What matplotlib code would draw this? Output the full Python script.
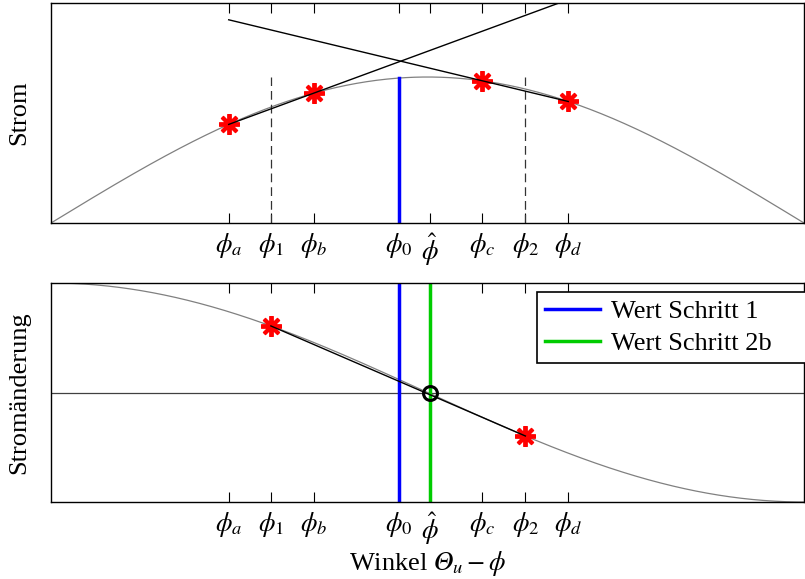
import numpy as np
import matplotlib
matplotlib.use("Agg")
import matplotlib.pyplot as plt

plt.rcParams['font.family'] = ['Liberation Serif', 'DejaVu Serif']
plt.rcParams['mathtext.fontset'] = 'stix'

# Data (angle normalized by pi on [0, 1])
xmax = np.pi
tick_pos = np.array([0.236, 0.292, 0.349, 0.4615, 0.503, 0.573, 0.630, 0.687]) * np.pi
tick_labels = [r'$\phi_a$', r'$\phi_1$', r'$\phi_b$', r'$\phi_0$', r'$\hat{\phi}$',
               r'$\phi_c$', r'$\phi_2$', r'$\phi_d$']
phi_a, phi_1, phi_b, phi_0, phi_hat, phi_c, phi_2, phi_d = tick_pos
meas_top = [phi_a, phi_b, phi_c, phi_d]
meas_bot = [phi_1, phi_2]
legend_labels = ['Wert Schritt 1', 'Wert Schritt 2b']

x = np.linspace(0, xmax, 600)

fig = plt.figure(figsize=(8.05, 5.79), dpi=100)
ax1 = fig.add_axes([51/805, 1-223/579, 753/805, 220/579])
ax2 = fig.add_axes([51/805, 1-502/579, 753/805, 219/579])

fs = 19
grey = '#808080'
star = (8, 2, 0)

# --- Top plot ---
ax1.plot(x, np.sin(x), color=grey, lw=0.9, zorder=1)
s1 = (np.sin(phi_b) - np.sin(phi_a)) / (phi_b - phi_a)
s2 = (np.sin(phi_d) - np.sin(phi_c)) / (phi_d - phi_c)
xs = np.array([phi_a, phi_d])
ax1.plot(xs, np.sin(phi_a) + s1 * (xs - phi_a), color='black', lw=1.0, zorder=3)
ax1.plot(xs, np.sin(phi_c) + s2 * (xs - phi_c), color='black', lw=1.0, zorder=3)
for p in [phi_1, phi_2]:
    ax1.plot([p, p], [0, 1], color='#333333', lw=0.9, ls=(0, (7, 4)), zorder=2)
ax1.plot([phi_0, phi_0], [0, np.sin(phi_0)], color='#0000ff', lw=2.5, zorder=2)
ax1.plot(meas_top, np.sin(meas_top), ls='none', marker=star, ms=15,
         mew=2.8, mec='#ff0000', mfc='#ff0000', zorder=2.5)
ax1.set_xlim(0, xmax)
ax1.set_ylim(0, 1.507)
ax1.set_ylabel('Strom', fontsize=fs, labelpad=15)

# --- Bottom plot ---
ax2.plot(x, np.cos(x), color=grey, lw=0.9, zorder=1)
ax2.axhline(0, color='#404040', lw=0.9, zorder=1)
sb = (np.cos(phi_2) - np.cos(phi_1)) / (phi_2 - phi_1)
xb = np.array([phi_1, phi_2])
ax2.plot(xb, np.cos(phi_1) + sb * (xb - phi_1), color='black', lw=1.0, zorder=3)
l1, = ax2.plot([phi_0, phi_0], [-1, 1], color='#0000ff', lw=2.5, zorder=2)
l2, = ax2.plot([phi_hat, phi_hat], [-1, 1], color='#00cc00', lw=2.5, zorder=2)
ax2.plot(meas_bot, np.cos(meas_bot), ls='none', marker=star, ms=15,
         mew=2.8, mec='#ff0000', mfc='#ff0000', zorder=2.5)
ax2.plot([phi_hat], [0], ls='none', marker='o', ms=10, mew=2.2, mec='black',
         mfc='none', zorder=4)
ax2.set_xlim(0, xmax)
ax2.set_ylim(-1, 1)
ax2.set_ylabel('Stromänderung', fontsize=fs, labelpad=15)
ax2.set_xlabel('Winkel $\U0001D6E9_u - \\phi$', fontsize=fs, labelpad=1)
leg = ax2.legend([l1, l2], legend_labels, loc='upper left', fontsize=fs,
                 bbox_to_anchor=((537 - 51) / 753, (502 - 292) / 219, 0.37, 0.0),
                 mode='expand',
                 frameon=True, fancybox=False, framealpha=1, edgecolor='black',
                 handlelength=2.1, borderaxespad=0.0, borderpad=0.3,
                 labelspacing=0.3, handletextpad=0.4)
leg.get_frame().set_linewidth(1.2)

for ax in (ax1, ax2):
    ax.set_xticks(tick_pos)
    ax.set_xticklabels(tick_labels, fontsize=fs)
    ax.set_yticks([])
    ax.tick_params(axis='x', direction='in', top=True, length=7, width=0.8,
                   pad=6, colors='black')
    for sp in ax.spines.values():
        sp.set_linewidth(1.0)

fig.savefig('out.png', dpi=100)
